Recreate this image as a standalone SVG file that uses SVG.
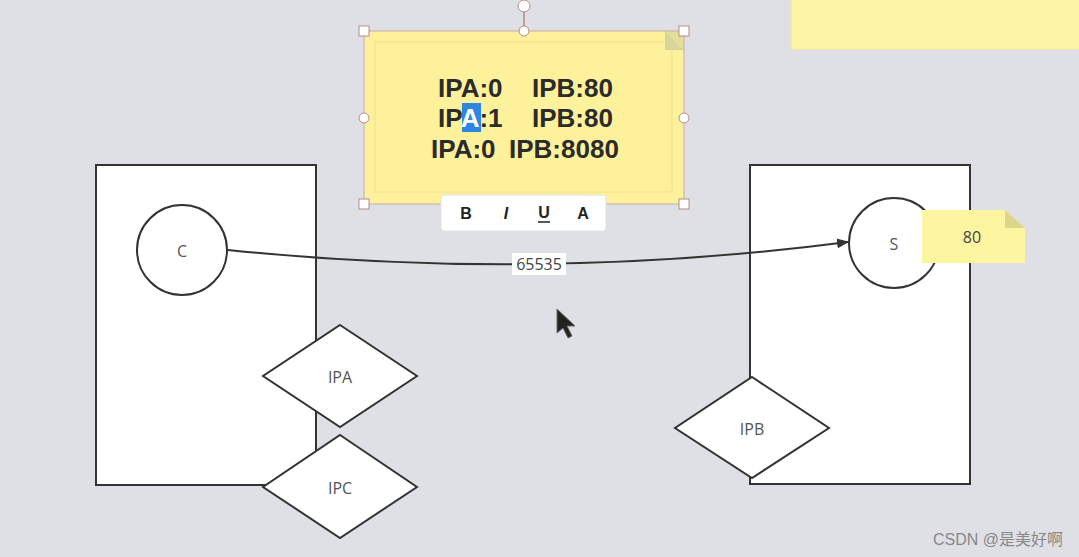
<svg xmlns="http://www.w3.org/2000/svg" width="1079" height="557" viewBox="0 0 1079 557">
<defs>
<style>
.box{fill:#fff;stroke:#333;stroke-width:2}
.lbl{font-family:"Open Sans","Liberation Sans",sans-serif;font-size:16px;fill:#555;text-anchor:middle;dominant-baseline:central}
.big{font-family:"Liberation Sans",Arial,sans-serif;font-weight:bold;font-size:26px;fill:#2b2b2b}
.handle{fill:#fff;stroke:#b58a8a;stroke-width:1}
.tb{font-family:"Liberation Sans",Arial,sans-serif;font-weight:bold;font-size:16px;fill:#222;text-anchor:middle;dominant-baseline:central}
</style>
<marker id="arr" viewBox="0 0 12 10" refX="11" refY="5" markerWidth="12" markerHeight="10" markerUnits="userSpaceOnUse" orient="auto">
<path d="M0,0 L12,5 L0,10 Z" fill="#333"/>
</marker>
</defs>
<rect width="1079" height="557" fill="#dfe0e5"/>

<g id="note-top-right">
<rect x="791" y="-2" width="290" height="51" fill="#fdf5a6" stroke="#f2e98a" stroke-width="1"/>
</g>

<g id="host-c">
<rect class="box" x="96" y="165" width="220" height="320"/>
</g>
<g id="node-c">
<circle class="box" cx="182" cy="250" r="45"/>
<text class="lbl" x="182" y="251">C</text>
</g>
<g id="ipa">
<polygon class="box" points="340,325 417,376 340,427 263,376"/>
<text class="lbl" x="340" y="377">IPA</text>
</g>
<g id="ipc">
<polygon class="box" points="340,435 417,487 340,538 263,487"/>
<text class="lbl" x="340" y="488">IPC</text>
</g>

<g id="host-s">
<rect class="box" x="750" y="165" width="220" height="319"/>
</g>
<g id="node-s">
<circle class="box" cx="894" cy="243" r="45"/>
<text class="lbl" x="894" y="244">S</text>
</g>
<g id="port-80">
<path d="M922,210 L1005,210 L1025,228 L1025,263 L922,263 Z" fill="#fdf5a0"/>
<path d="M1005,210 L1005,228 L1025,228 Z" fill="#ddd58a"/>
<text class="lbl" x="972" y="237" style="fill:#444">80</text>
</g>
<g id="ipb">
<polygon class="box" points="752,377 829,428 752,478 675,428"/>
<text class="lbl" x="752" y="429">IPB</text>
</g>

<g id="connectors">
<path d="M228,250 Q539,282 848,242" fill="none" stroke="#333" stroke-width="2" marker-end="url(#arr)"/>
<rect x="512" y="253" width="54" height="22" fill="#fff"/>
<text class="lbl" x="539" y="264" style="fill:#444">65535</text>
</g>

<g id="sticky-note">
<line x1="524" y1="6" x2="524" y2="31" stroke="#b58a8a" stroke-width="1.5"/>
<rect x="364" y="31" width="320" height="173" fill="#fdf29b"/>
<rect x="375" y="42" width="297" height="150" fill="none" stroke="#eedf8c" stroke-width="1"/>
<path d="M665,31 L684,31 L684,50 Z" fill="#e3df9a"/>
<path d="M665,31 L665,50 L684,50 Z" fill="#d8d49b"/>
<rect x="364" y="31" width="320" height="173" fill="none" stroke="#c9a9a9" stroke-width="1"/>
<rect x="462" y="103" width="19" height="29" fill="#2f86e0"/>
<text class="big" x="438" y="97">IPA:0</text>
<text class="big" x="532" y="97">IPB:80</text>
<text class="big" x="438" y="127">IP<tspan fill="#fff">A</tspan>:1</text>
<text class="big" x="532" y="127">IPB:80</text>
<text class="big" x="431" y="158">IPA:0</text>
<text class="big" x="509" y="158">IPB:8080</text>
<rect class="handle" x="359" y="26" width="10" height="10"/>
<rect class="handle" x="679" y="26" width="10" height="10"/>
<rect class="handle" x="359" y="199" width="10" height="10"/>
<rect class="handle" x="679" y="199" width="10" height="10"/>
<circle class="handle" cx="364" cy="118" r="5"/>
<circle class="handle" cx="684" cy="118" r="5"/>
<circle class="handle" cx="524" cy="31" r="5"/>
<circle class="handle" cx="524" cy="6" r="6"/>
</g>

<g id="toolbar">
<rect x="441" y="195" width="165" height="36" rx="3" fill="#fff" stroke="#e2e2e2" stroke-width="1"/>
<text class="tb" x="466" y="213">B</text>
<text class="tb" x="506" y="213" style="font-style:italic">I</text>
<text class="tb" x="544" y="212">U</text>
<line x1="538" y1="222" x2="550" y2="222" stroke="#222" stroke-width="1.5"/>
<text class="tb" x="583" y="213">A</text>
</g>

<g id="cursor">
<path d="M557,309 L557,333 L563,328 L568,338 L572,336 L567,326 L575,326 Z" fill="#222" stroke="#666" stroke-width="1"/>
</g>

<text x="1063" y="545" text-anchor="end" font-family="'Liberation Sans','Noto Sans CJK SC',sans-serif" font-size="16" fill="#888">CSDN @是美好啊</text>
</svg>
